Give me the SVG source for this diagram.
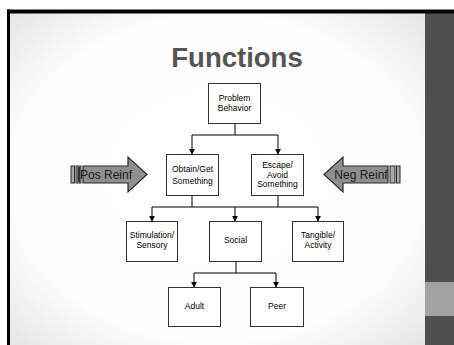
<svg xmlns="http://www.w3.org/2000/svg" width="454" height="345" viewBox="0 0 454 345">
  <defs>
    <radialGradient id="slideBg" cx="50%" cy="50%" r="70%">
      <stop offset="0" stop-color="#ffffff"/>
      <stop offset="0.7" stop-color="#fdfdfd"/>
      <stop offset="1" stop-color="#e6e6e6"/>
    </radialGradient>
    <marker id="arrow" viewBox="0 0 8 8" refX="7" refY="4" markerWidth="6" markerHeight="6" markerUnits="userSpaceOnUse" orient="auto">
      <path d="M0,0 L8,4 L0,8 Z" fill="#000"/>
    </marker>
    <style>
      .box { fill: #fff; stroke: #333; stroke-width: 1; }
      .lbl { font-family: "Liberation Sans", Arial, sans-serif; font-size: 8.5px; fill: #000; text-anchor: middle; }
      .wire { fill: none; stroke: #000; stroke-width: 1; }
      .arrowIn { fill: none; stroke: #000; stroke-width: 1; marker-end: url(#arrow); }
      .block { fill: #8f8f8f; stroke: #2a2a2a; stroke-width: 1.2; }
      .stripe { fill: #a8a8a8; stroke: #2a2a2a; stroke-width: 1; }
      .stripeDark { fill: #333; }
      .reinf { font-family: "Liberation Sans", Arial, sans-serif; font-size: 12px; fill: #1a1a1a; text-anchor: middle; }
    </style>
  </defs>

  <!-- slide background and frame -->
  <rect x="0" y="0" width="454" height="345" fill="#fff"/>
  <rect x="10" y="13" width="415" height="332" fill="url(#slideBg)"/>
  <rect x="425" y="13" width="29" height="332" fill="#4f4f4f"/>
  <rect x="425" y="282" width="29" height="34" fill="#a2a2a2"/>
  <rect x="7" y="9.5" width="447" height="4" fill="#000"/>
  <rect x="7" y="9.5" width="3" height="335.5" fill="#000"/>

  <!-- title -->
  <text x="237" y="67" font-family="'Liberation Sans', Arial, sans-serif" font-size="27.5" font-weight="bold" fill="#555" text-anchor="middle">Functions</text>

  <!-- connectors -->
  <g id="connectors">
    <path class="wire" d="M235,123 V135 H192 M235,135 H278"/>
    <path class="arrowIn" d="M192,135 V154"/>
    <path class="arrowIn" d="M278,135 V154"/>
    <path class="wire" d="M192,195 V207 H152 M192,207 H318 M278,195 V207"/>
    <path class="arrowIn" d="M152,207 V221"/>
    <path class="arrowIn" d="M235,207 V221"/>
    <path class="arrowIn" d="M318,207 V221"/>
    <path class="wire" d="M236,261 V273 H194 M236,273 H276"/>
    <path class="arrowIn" d="M194,273 V287"/>
    <path class="arrowIn" d="M276,273 V287"/>
  </g>

  <!-- nodes -->
  <g id="problem-behavior">
    <rect class="box" x="208.5" y="83.5" width="52" height="40"/>
    <text class="lbl" x="234.5" y="101">Problem</text>
    <text class="lbl" x="234.5" y="111">Behavior</text>
  </g>
  <g id="obtain">
    <rect class="box" x="166.5" y="154.5" width="52" height="41"/>
    <text class="lbl" x="192.5" y="172">Obtain/Get</text>
    <text class="lbl" x="192.5" y="184">Something</text>
  </g>
  <g id="escape">
    <rect class="box" x="251.5" y="154.5" width="52" height="41"/>
    <text class="lbl" x="277.5" y="168">Escape/</text>
    <text class="lbl" x="277.5" y="177.5">Avoid</text>
    <text class="lbl" x="277.5" y="187">Something</text>
  </g>
  <g id="stimulation">
    <rect class="box" x="126.5" y="221.5" width="51" height="40"/>
    <text class="lbl" x="152" y="238">Stimulation/</text>
    <text class="lbl" x="152" y="248">Sensory</text>
  </g>
  <g id="social">
    <rect class="box" x="209.5" y="221.5" width="52" height="40"/>
    <text class="lbl" x="235.5" y="243">Social</text>
  </g>
  <g id="tangible">
    <rect class="box" x="292.5" y="221.5" width="51" height="40"/>
    <text class="lbl" x="318" y="238">Tangible/</text>
    <text class="lbl" x="318" y="248">Activity</text>
  </g>
  <g id="adult">
    <rect class="box" x="168.5" y="287.5" width="52" height="39"/>
    <text class="lbl" x="194.5" y="309">Adult</text>
  </g>
  <g id="peer">
    <rect class="box" x="250.5" y="287.5" width="53" height="39"/>
    <text class="lbl" x="277" y="309">Peer</text>
  </g>

  <!-- reinforcement block arrows -->
  <g id="pos-reinf">
    <rect class="stripe" x="71" y="166" width="3.5" height="17"/>
    <rect class="stripe" x="76" y="166" width="5" height="17"/>
    <rect class="stripeDark" x="77.5" y="167" width="2.5" height="15"/>
    <path class="block" d="M83,166 H128 V157 L147,174.5 L128,192 V183 H83 Z"/>
    <text class="reinf" x="106" y="179">Pos Reinf</text>
  </g>
  <g id="neg-reinf">
    <path class="block" d="M388,166 H343 V157 L324,174.5 L343,192 V183 H388 Z"/>
    <rect class="stripe" x="390" y="166" width="5" height="17"/>
    <rect class="stripe" x="396.5" y="166" width="3.5" height="17"/>
    <text class="reinf" x="361" y="179">Neg Reinf</text>
  </g>
</svg>
